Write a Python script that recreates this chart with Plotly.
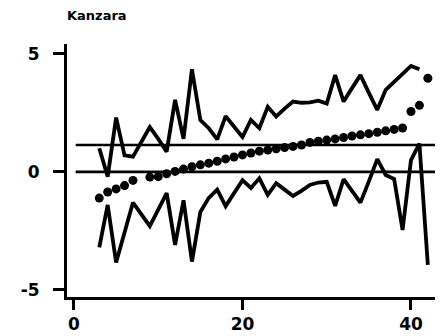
import plotly.graph_objects as go

# ---- data ----
x_idx = [3, 4, 5, 6, 7, 9, 10, 11, 12, 13, 14, 15, 16, 17, 18, 19, 20, 21, 22, 23,
         24, 25, 26, 27, 28, 29, 30, 31, 32, 33, 34, 35, 36, 37, 38, 39, 40, 41, 42]

estimate = [-1.11, -0.85, -0.72, -0.58, -0.36, -0.22, -0.20, -0.08, 0.02, 0.12,
            0.22, 0.30, 0.37, 0.45, 0.55, 0.63, 0.72, 0.80, 0.88, 0.93,
            0.98, 1.03, 1.08, 1.14, 1.25, 1.30, 1.35, 1.40, 1.46, 1.52,
            1.57, 1.62, 1.68, 1.74, 1.80, 1.86, 2.56, 2.82, 3.97]

upper = [1.00, -0.20, 2.30, 0.70, 0.65, 1.90, 1.40, 0.86, 3.05, 1.40,
         4.35, 2.20, 1.85, 1.38, 2.36, 1.90, 1.48, 2.20, 1.85, 2.76,
         2.35, 2.68, 2.98, 2.93, 2.95, 3.02, 2.90, 4.10, 2.98, 3.55,
         4.10, 3.35, 2.63, 3.48, 3.82, 4.15, 4.49, 4.35, None]

lower = [-3.20, -1.40, -3.84, -2.55, -1.30, -2.30, -1.60, -0.90, -3.09, -1.20,
         -3.80, -1.70, -1.10, -0.75, -1.45, -0.90, -0.35, -0.68, -0.27, -0.97,
         -0.48, -0.75, -1.02, -0.80, -0.55, -0.45, -0.42, -1.44, -0.31, -0.80,
         -1.30, -0.40, 0.54, -0.13, -0.30, -2.46, 0.50, 1.20, -3.94]

ref_levels = [0.0, 1.14]

x_tickvals = [0, 20, 40]
x_ticktext = ["0", "20", "40"]
y_tickvals = [-5, 0, 5]
y_ticktext = ["-5", "0", "5"]

title_text = "Kanzara"

# ---- figure ----
# (the page body adds an 8 px margin, so the layout is shifted up/left by 8 px)
font_family = "DejaVu Sans"
fig = go.Figure()

for lvl in ref_levels:
    fig.add_shape(type="line", xref="x", yref="y", x0=0.2, x1=43.1, y0=lvl, y1=lvl,
                  line=dict(color="black", width=2.6))

fig.add_trace(go.Scatter(x=x_idx, y=upper, mode="lines",
                         line=dict(color="black", width=3.8), connectgaps=False,
                         hoverinfo="skip"))
fig.add_trace(go.Scatter(x=x_idx, y=lower, mode="lines",
                         line=dict(color="black", width=3.8), hoverinfo="skip"))
fig.add_trace(go.Scatter(x=x_idx, y=estimate, mode="markers",
                         marker=dict(color="black", size=9), hoverinfo="skip"))

m_l, m_r, m_t, m_b = 59, 8, 36, 47
plot_h = 336 - m_t - m_b
fig.add_annotation(text="<b>" + title_text + "</b>", xref="paper", yref="paper",
                   x=-2 / 376, y=1 + (m_t - 8) / plot_h, xanchor="left", yanchor="middle",
                   showarrow=False,
                   font=dict(family=font_family, size=13, color="black"))

fig.update_layout(
    width=443, height=336,
    margin=dict(l=m_l, r=m_r, t=m_t, b=m_b, autoexpand=False),
    paper_bgcolor="white", plot_bgcolor="white",
    showlegend=False,
    font=dict(family=font_family, size=17, color="black"),
    xaxis=dict(range=[-0.83, 43.8], showgrid=False, zeroline=False, automargin=False,
               showline=True, linecolor="black", linewidth=3,
               ticks="outside", ticklen=10, tickwidth=3, tickcolor="black",
               tickvals=x_tickvals, ticktext=["<b>" + t + "</b>" for t in x_ticktext],
               tickfont=dict(family=font_family, size=17, color="black")),
    yaxis=dict(range=[-5.3, 5.42], showgrid=False, zeroline=False, automargin=False,
               showline=True, linecolor="black", linewidth=3,
               ticks="outside", ticklen=11, tickwidth=3, tickcolor="black",
               tickvals=y_tickvals, ticktext=["<b>" + t + "</b>" for t in y_ticktext],
               ticklabelstandoff=10,
               tickfont=dict(family=font_family, size=17, color="black")),
)

fig.write_html("out.html")
